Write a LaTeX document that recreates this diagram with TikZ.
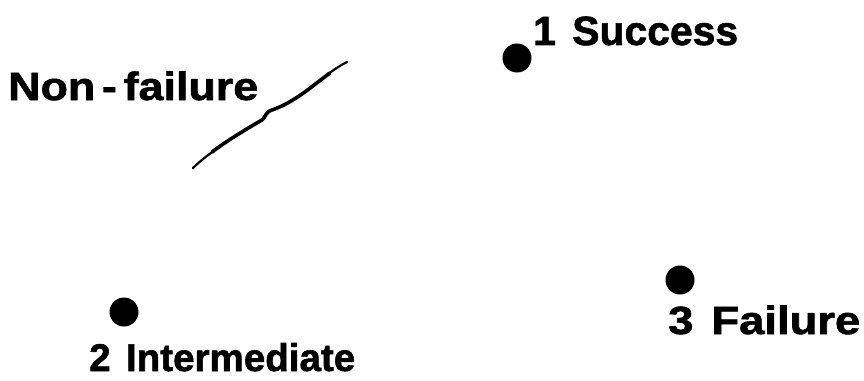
\documentclass[tikz,border=0pt]{standalone}
\usepackage{fontspec}
\setmainfont{Liberation Sans}[BoldFeatures={FakeBold=1.5}]
\usepackage{graphicx}
\begin{document}
\begin{tikzpicture}[x=1pt,y=-1pt,
  dot/.style={circle,fill=black,inner sep=0pt,minimum size=29pt},
  lab/.style={anchor=base west,inner sep=0pt,font=\bfseries},
  stroke/.style={line width=3.6pt,line cap=round,line join=round}]
\useasboundingbox (0,0) rectangle (864,380);
\node[dot] (s1) at (517,58) {};
\node[dot] (s2) at (124,312) {};
\node[dot] (s3) at (680,280) {};
\node[lab] (l1) at (533,45) {\resizebox{205pt}{28.5pt}{1\hspace{0.4em}Success}};
\node[lab] (l2) at (89,371) {\resizebox{266pt}{28pt}{2\hspace{0.4em}Intermediate}};
\node[lab] (l3) at (668,334) {\resizebox{192pt}{28.5pt}{3\hspace{0.4em}Failure}};
\node[lab] (nf) at (8,100) {\resizebox{250pt}{28.5pt}{Non\hspace{0.15em}-\hspace{0.15em}failure}};
\draw[line width=2.2pt,line cap=round] (193,168) .. controls (200,161) and (208,155) .. (215,150);
\draw[stroke] (212,152) .. controls (228,140) and (248,128) .. (262,120)
  .. controls (266,117) and (265,112) .. (272,110)
  .. controls (295,102) and (312,86) .. (330,73);
\draw[line width=2.2pt,line cap=round] (328,74) .. controls (335,69) and (341,65) .. (347,62);
\end{tikzpicture}
\end{document}
